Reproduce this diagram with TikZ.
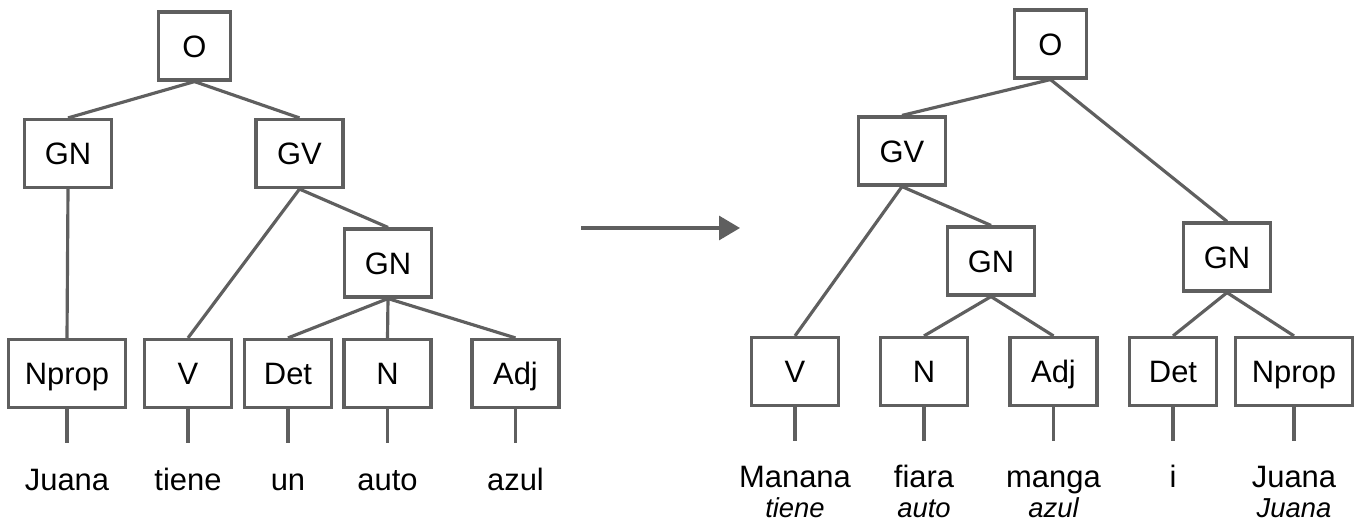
\documentclass[tikz,border=0pt]{standalone}
\usepackage{fontspec}
\setmainfont{Liberation Sans}
\usetikzlibrary{arrows.meta}
\usetikzlibrary{positioning}
\definecolor{treegray}{RGB}{95,95,95}

\begin{document}
\begin{tikzpicture}[
  x=0.02cm, y=-0.02cm,
  > = {Triangle[length=0.42cm,width=0.48cm]},
  box/.style = {draw=treegray, line width=1.8pt, minimum width=1.74cm, minimum height=1.36cm, inner xsep=0.32cm, text height=12.6pt, text depth=0pt, font=\fontsize{17.6}{20}\selectfont},
  obox/.style = {box, minimum width=1.44cm},
  word/.style = {anchor=base, inner sep=0pt, font=\fontsize{17.6}{20}\selectfont},
  gloss/.style = {anchor=base, inner sep=0pt, font=\fontsize{15.6}{18}\selectfont\itshape},
  edge/.style = {draw=treegray, line width=1.8pt}
  ]
	\useasboundingbox (0,0) rectangle (1356,523);

	% left tree
	\node[obox] (lO) at (194.5,46) {O};
	\node[box] (lGN) at (68,153.5) {GN};
	\node[box] (lGV) at (299.5,153.5) {GV};
	\node[box] (lGN2) at (388,263) {GN};
	\node[box] (lNprop) at (67,373.5) {Nprop};
	\node[box] (lV) at (188,373.5) {V};
	\node[box] (lDet) at (288,373.5) {Det};
	\node[box] (lN) at (387.5,373.5) {N};
	\node[box] (lAdj) at (515.5,373.5) {Adj};

	\draw[edge] (lO.south) -- (lGN.north);
	\draw[edge] (lO.south) -- (lGV.north);
	\draw[edge] (lGN.south) -- (lNprop.north);
	\draw[edge] (lGV.south) -- (lV.north);
	\draw[edge] (lGV.south) -- (lGN2.north);
	\draw[edge] (lGN2.south) -- (lDet.north);
	\draw[edge] (lGN2.south) -- (lN.north);
	\draw[edge] (lGN2.south) -- (lAdj.north);

	\coordinate (ls1) at (67,443);
	\coordinate (ls2) at (188,443);
	\coordinate (ls3) at (288,443);
	\coordinate (ls4) at (387.5,443);
	\coordinate (ls5) at (515.5,443);
	\draw[edge] (lNprop.south) -- (ls1);
	\draw[edge] (lV.south) -- (ls2);
	\draw[edge] (lDet.south) -- (ls3);
	\draw[edge] (lN.south) -- (ls4);
	\draw[edge] (lAdj.south) -- (ls5);

	\node[word] (lw1) at (67,490) {Juana};
	\node[word] (lw2) at (188,490) {tiene};
	\node[word] (lw3) at (288,490) {un};
	\node[word] (lw4) at (387.5,490) {auto};
	\node[word] (lw5) at (515.5,490) {azul};

	% arrow
	\coordinate (a1) at (581,228);
	\coordinate (a2) at (740,228);
	\draw[edge,->] (a1) -- (a2);

	% right tree
	\node[obox] (rO) at (1050.5,44) {O};
	\node[box] (rGV) at (902,151) {GV};
	\node[box] (rGN) at (991,261) {GN};
	\node[box] (rGN2) at (1227,257) {GN};
	\node[box] (rV) at (795,371.5) {V};
	\node[box] (rN) at (924,371.5) {N};
	\node[box] (rAdj) at (1053.5,371.5) {Adj};
	\node[box] (rDet) at (1173,371.5) {Det};
	\node[box] (rNprop) at (1294,371.5) {Nprop};

	\draw[edge] (rO.south) -- (rGV.north);
	\draw[edge] (rO.south) -- (rGN2.north);
	\draw[edge] (rGV.south) -- (rV.north);
	\draw[edge] (rGV.south) -- (rGN.north);
	\draw[edge] (rGN.south) -- (rN.north);
	\draw[edge] (rGN.south) -- (rAdj.north);
	\draw[edge] (rGN2.south) -- (rDet.north);
	\draw[edge] (rGN2.south) -- (rNprop.north);

	\coordinate (rs1) at (795,441);
	\coordinate (rs2) at (924,441);
	\coordinate (rs3) at (1053.5,441);
	\coordinate (rs4) at (1173,441);
	\coordinate (rs5) at (1294,441);
	\draw[edge] (rV.south) -- (rs1);
	\draw[edge] (rN.south) -- (rs2);
	\draw[edge] (rAdj.south) -- (rs3);
	\draw[edge] (rDet.south) -- (rs4);
	\draw[edge] (rNprop.south) -- (rs5);

	\node[word] (rw1) at (795,487) {Manana};
	\node[word] (rw2) at (924,487) {fiara};
	\node[word] (rw3) at (1053.5,487) {manga};
	\node[word] (rw4) at (1173,487) {i};
	\node[word] (rw5) at (1294,487) {Juana};

	\node[gloss] (rg1) at (795,518) {tiene};
	\node[gloss] (rg2) at (924,518) {auto};
	\node[gloss] (rg3) at (1053.5,518) {azul};
	\node[gloss] (rg5) at (1294,518) {Juana};

\end{tikzpicture}
\end{document}
